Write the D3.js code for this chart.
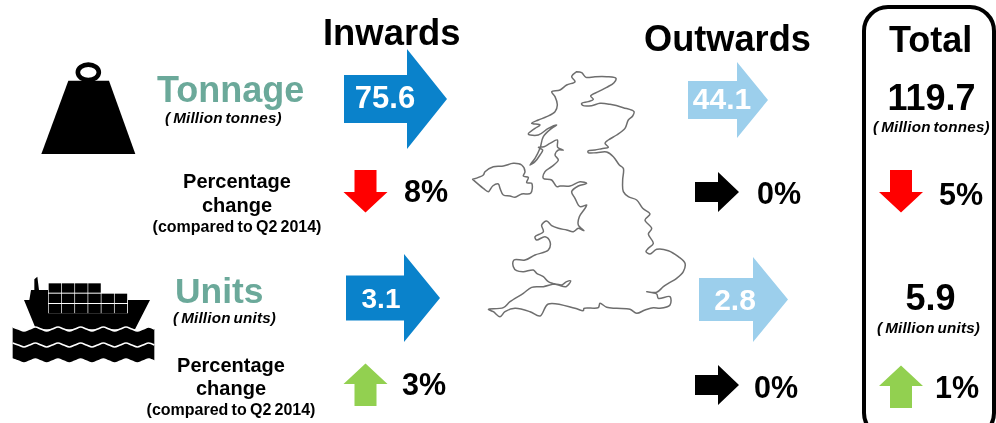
<!DOCTYPE html>
<html><head><meta charset="utf-8">
<script src="https://cdn.jsdelivr.net/npm/d3@7"></script>
<style>html,body{margin:0;padding:0;background:#fff;overflow:hidden}svg{display:block;filter:blur(0.4px)}
text{font-family:"Liberation Sans",Arial,sans-serif;font-weight:700}</style></head><body>
<script>
// ---------- values ----------
const measures = ["Tonnage", "Units"];
const measureUnits = ["( Million tonnes)", "( Million units)"];
const inwards = [75.6, 3.1];
const outwards = [44.1, 2.8];
const totals = [119.7, 5.9];
const inwardChange = [8, 3];
const inwardDirection = ["down", "up"];
const outwardChange = [0, 0];
const outwardDirection = ["flat", "flat"];
const totalChange = [5, 1];
const totalDirection = ["down", "up"];
const changeLabel = ["Percentage", "change", "(compared to Q2 2014)"];
const headings = ["Inwards", "Outwards", "Total"];

// ---------- layout ----------
const W = 996, H = 423;
const colors = {teal:"#6BA99A", blue:"#0A82CB", light:"#9CCFEC", down:"#FF0000", up:"#92D050", flat:"#000"};
const blockArrows = [ // x0,bodyEnd,tip,cy,half body,half head
  {v:inwards[0], c:colors.blue, x0:344,xb:407,tip:447,cy:99,hb:24,hh:50, tx:385,ty:108,fs:31},
  {v:outwards[0],c:colors.light,x0:688,xb:737,tip:768,cy:100,hb:19,hh:38, tx:722,ty:109,fs:30},
  {v:inwards[1], c:colors.blue, x0:346,xb:404,tip:440,cy:298,hb:22.5,hh:44, tx:381,ty:308,fs:28},
  {v:outwards[1],c:colors.light,x0:699,xb:753,tip:788,cy:299.5,hb:21.5,hh:42.5, tx:735,ty:310,fs:30}
];
const changes = [
  {v:inwardChange[0], d:inwardDirection[0], ax:365.5,ay:170,tx:404,ty:202},
  {v:outwardChange[0],d:outwardDirection[0],ax:695,ay:192,tx:757,ty:204},
  {v:totalChange[0],  d:totalDirection[0],  ax:901,ay:170,tx:939,ty:205},
  {v:inwardChange[1], d:inwardDirection[1], ax:365.5,ay:406,tx:402,ty:395},
  {v:outwardChange[1],d:outwardDirection[1],ax:695,ay:385,tx:754,ty:398},
  {v:totalChange[1],  d:totalDirection[1],  ax:901,ay:408,tx:935,ty:398}
];

const svg = d3.select("body").append("svg").attr("width",W).attr("height",H);
svg.append("rect").attr("width",W).attr("height",H).attr("fill","#fff");
const line = d3.line();
const txt = (s,x,y,fs,o={}) => svg.append("text").attr("x",x).attr("y",y).attr("font-size",fs)
  .attr("text-anchor",o.a||"start").attr("fill",o.c||"#000").attr("font-style",o.i?"italic":"normal")
  .attr("letter-spacing",o.ls||null).attr("word-spacing",o.ws||null).text(s);

// total box
svg.append("rect").attr("x",864).attr("y",7).attr("width",130).attr("height",430).attr("rx",24)
  .attr("fill","none").attr("stroke","#000").attr("stroke-width",4);

// headings
txt(headings[0],323,45,36.4);
txt(headings[1],644,51,36.2);
txt(headings[2],889,52,36);

// measures
txt(measures[0],157,102,36,{c:colors.teal});
txt(measures[1],175,303,35.4,{c:colors.teal});
const unitStyle={i:1,ws:"-1.5",ls:"0.2"};
txt(measureUnits[0],165,123,15.2,unitStyle);
txt(measureUnits[1],173,323,15.2,unitStyle);
txt(measureUnits[0],873,132,15.2,unitStyle);
txt(measureUnits[1],877,333,15.2,unitStyle);

// percentage change captions
[[237,188,212,232],[231,372,395,415]].forEach(([cx,a,b,c])=>{
  txt(changeLabel[0],cx,a,20,{a:"middle"});
  txt(changeLabel[1],cx,b,20,{a:"middle"});
  txt(changeLabel[2],cx,c,16,{a:"middle",ws:"-1.2"});
});

// totals
txt(d3.format(".1f")(totals[0]),931.5,110,36,{a:"middle"});
txt(d3.format(".1f")(totals[1]),930.5,310,36,{a:"middle"});

// block arrows
blockArrows.forEach(a=>{
  svg.append("path").attr("fill",a.c).attr("d",line([
    [a.x0,a.cy-a.hb],[a.xb,a.cy-a.hb],[a.xb,a.cy-a.hh],[a.tip,a.cy],
    [a.xb,a.cy+a.hh],[a.xb,a.cy+a.hb],[a.x0,a.cy+a.hb]])+"Z");
  txt(d3.format(".1f")(a.v),a.tx,a.ty,a.fs,{a:"middle",c:"#fff"});
});

// small change arrows
const sign = {down:1, up:-1};
changes.forEach(ch=>{
  let pts;
  if(ch.d==="flat"){
    const {ax:x,ay:y}=ch;
    pts=[[x,y-10],[x+23,y-10],[x+23,y-20],[x+44,y],[x+23,y+20],[x+23,y+10],[x,y+10]];
  } else {
    const s=sign[ch.d],{ax:x,ay:y}=ch;
    pts=[[x-11,y],[x+11,y],[x+11,y+s*22],[x+22,y+s*22],[x,y+s*42.5],[x-22,y+s*22],[x-11,y+s*22]];
  }
  svg.append("path").attr("fill",colors[ch.d]).attr("d",line(pts)+"Z");
  txt(ch.v+"%",ch.tx,ch.ty,30.5);
});

// ---------- weight icon ----------
const wx=d3.scaleLinear([0,340],[0,340]), wy=d3.scaleLinear([0,200],[40,240]);
const wp=p=>p.map(([x,y])=>[wx(x/3),wy(y/3)]);
svg.append("path").attr("d",line(wp([[205,122],[327,122],[406,342],[124,342]]))+"Z").attr("fill","#000");
svg.append("ellipse").attr("cx",wx(265/3)).attr("cy",wy(97/3)).attr("rx",10.5).attr("ry",7.7)
  .attr("fill","#fff").attr("stroke","#000").attr("stroke-width",4.6);

// ---------- ship icon ----------
const sx=d3.scaleLinear([0,1020],[0,340]), sy=d3.scaleLinear([0,489],[260,423]);
const sp=p=>p.map(([x,y])=>[sx(x),sy(y)]);
const hull=[[72,120],[88,120],[93,90],[103,90],[103,58],[112,50],[117,90],[144,90],[144,160],[384,160],[384,120],[450,120],[405,208],[108,208]];
svg.append("path").attr("d",line(sp(hull))+"Z").attr("fill","#000");
const containerRows=[{y:70,n:4},{y:101,n:6},{y:132,n:6}];
containerRows.forEach(r=>d3.range(r.n).forEach(i=>{
  svg.append("rect").attr("x",sx(146+i*39.6)).attr("y",sy(r.y)).attr("width",sx(37.5)).attr("height",sy(28)-sy(0)).attr("fill","#000");
}));
// water
const waveXs=d3.range(38,474,17);
const wave=(y0,amp,phase)=>waveXs.map((x,i)=>[x,y0+amp*[0,1,0,-1][(i+phase)%4]]);
const curve=d3.line().curve(d3.curveCardinal);
const topEdge=wave(207,6,3), midEdge=wave(255,6,3), botEdge=wave(301,6,3);
svg.append("path").attr("fill","#000").attr("d",
  curve(sp(topEdge))+"L"+curve(sp(botEdge.slice().reverse())).slice(1)+"Z");
svg.append("path").attr("fill","none").attr("stroke","#fff").attr("stroke-width",1.6).attr("d",curve(sp(topEdge)));
svg.append("path").attr("fill","none").attr("stroke","#fff").attr("stroke-width",1.6).attr("d",curve(sp(midEdge)));

// ---------- map ----------
const mx=d3.scaleLinear([0,720],[460,700]), my=d3.scaleLinear([0,810],[60,330]);
const greatBritain=[[350,35],[365,38],[378,52],[405,50],[440,50],[468,55],[462,68],[440,82],[415,95],[392,108],[400,118],[385,125],[365,130],[368,136],[395,137],[420,130],[450,133],[490,143],[522,155],[518,168],[505,180],[495,205],[470,225],[445,240],[435,250],[445,262],[425,266],[405,270],[385,272],[385,278],[410,278],[440,276],[460,290],[478,315],[490,325],[488,360],[490,395],[505,410],[530,420],[548,445],[570,462],[555,480],[575,505],[565,522],[580,550],[565,565],[558,575],[570,582],[590,568],[625,572],[655,590],[675,610],[670,635],[650,655],[625,670],[610,680],[590,697],[560,695],[590,702],[595,715],[630,710],[630,735],[600,745],[580,743],[555,750],[530,760],[510,748],[470,745],[440,742],[420,730],[415,743],[372,745],[370,752],[345,745],[265,732],[240,768],[210,755],[165,745],[135,755],[120,770],[100,755],[85,748],[130,743],[150,725],[190,700],[215,682],[250,680],[285,672],[305,675],[320,665],[332,663],[318,680],[295,675],[265,665],[250,650],[230,640],[220,630],[190,635],[170,632],[160,620],[162,600],[195,600],[225,585],[265,570],[270,545],[255,530],[230,540],[225,530],[250,515],[245,495],[260,483],[275,497],[295,505],[320,510],[340,515],[355,505],[372,512],[355,495],[358,470],[375,445],[380,435],[360,440],[345,415],[335,395],[355,378],[380,370],[360,365],[330,378],[300,378],[290,380],[275,360],[250,355],[255,335],[275,320],[295,300],[285,285],[295,270],[310,270],[293,262],[292,240],[270,250],[252,260],[235,262],[248,270],[240,285],[225,305],[210,315],[225,295],[240,265],[250,230],[275,205],[290,195],[265,205],[235,225],[205,222],[225,205],[240,195],[215,190],[235,180],[260,170],[285,155],[292,135],[285,110],[275,95],[300,90],[320,75],[345,65],[335,50],[350,35]];
const northernIreland=[[38,358],[70,345],[75,335],[100,320],[130,318],[160,310],[185,315],[195,335],[190,348],[205,352],[200,368],[215,370],[212,400],[185,402],[165,412],[150,408],[130,405],[120,385],[115,372],[98,378],[85,395],[70,385],[38,358]];
const mapLine=d3.line().x(d=>mx(d[0])).y(d=>my(d[1])).curve(d3.curveCatmullRom.alpha(0.5));
[greatBritain,northernIreland].forEach(o=>svg.append("path").attr("d",mapLine(o)+"Z")
  .attr("fill","none").attr("stroke","#6e6e6e").attr("stroke-width",1.5).attr("stroke-linejoin","round"));
</script></body></html>
